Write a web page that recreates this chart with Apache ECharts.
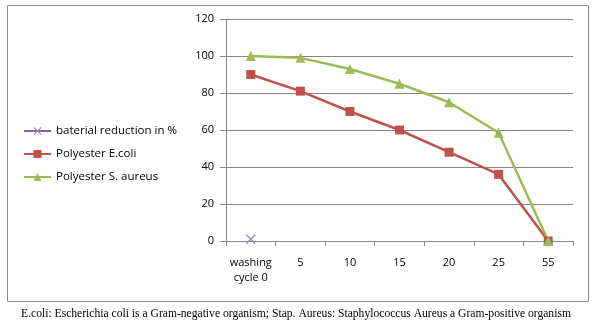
<!DOCTYPE html>
<html><head><meta charset="utf-8">
<script src="https://cdn.jsdelivr.net/npm/echarts@6/dist/echarts.min.js"></script>
<style>html,body{margin:0;padding:0;background:#fff}#c{width:592px;height:326px}</style>
</head><body><div id="c"></div>
<script>
const categories = ['washing\ncycle 0', '5', '10', '15', '20', '25', '55'];
const bacterialReduction = [1, null, null, null, null, null, null];
const polyesterEcoli = [90, 81, 70, 60, 48, 36, 0];
const polyesterSaureus = [100, 99, 93, 85, 75, 58.5, 0];
const yTicks = [0, 20, 40, 60, 80, 100, 120];
const footnote = 'E.coli: Escherichia coli is a Gram-negative organism; Stap. Aureus: Staphylococcus Aureus a Gram-positive organism';

const chart = echarts.init(document.getElementById('c'), null, {renderer: 'canvas'});
const font = 'Open Sans, Noto Sans, sans-serif';
const crossPath = 'path://M0,1L1,0L5,4L9,0L10,1L6,5L10,9L9,10L5,6L1,10L0,9L4,5Z';
chart.setOption({
  animation: false,
  textStyle: {fontFamily: font},
  graphic: [
    {type: 'rect', shape: {x: 7.5, y: 5.5, width: 581, height: 296}, style: {fill: 'none', stroke: '#8c8c8c', lineWidth: 1}, z: -1},
    {type: 'text', left: 'center', top: 308, style: {text: footnote, font: '11.6px "Liberation Serif", serif', fill: '#000'}}
  ],
  grid: {left: 226, right: 19, top: 19, bottom: 85},
  legend: {
    orient: 'vertical', left: 18, top: 120, itemGap: 11,
    itemWidth: 27, itemHeight: 10,
    textStyle: {fontSize: 11.5, color: '#000', fontFamily: font},
    data: ['baterial reduction in %', 'Polyester E.coli', 'Polyester S. aureus']
  },
  xAxis: {
    type: 'category', data: categories, boundaryGap: true,
    axisLine: {lineStyle: {color: '#868686', width: 1}},
    axisTick: {show: true, length: 5, lineStyle: {color: '#868686'}},
    axisLabel: {color: '#000', fontSize: 11, margin: 14, lineHeight: 15, interval: 0}
  },
  yAxis: {
    type: 'value', min: 0, max: 120, interval: 20,
    axisLine: {show: true, lineStyle: {color: '#868686'}},
    axisTick: {show: true, length: 6, lineStyle: {color: '#868686'}},
    splitLine: {lineStyle: {color: '#868686', width: 1}},
    axisLabel: {color: '#000', fontSize: 11, margin: 12,
      formatter: v => yTicks.includes(v) ? String(v) : ''}
  },
  series: [
    {name: 'baterial reduction in %', type: 'line', data: bacterialReduction,
     symbol: crossPath, symbolSize: 10,
     lineStyle: {color: '#8064A2', width: 2.5},
     itemStyle: {color: '#9d8bc0'}},
    {name: 'Polyester E.coli', type: 'line', data: polyesterEcoli,
     symbol: 'rect', symbolSize: 9,
     lineStyle: {color: '#C0504D', width: 2.5},
     itemStyle: {color: '#C0504D'}},
    {name: 'Polyester S. aureus', type: 'line', data: polyesterSaureus,
     symbol: 'triangle', symbolSize: 10,
     lineStyle: {color: '#9BBB59', width: 2.5},
     itemStyle: {color: '#9BBB59'}}
  ]
});
</script></body></html>
